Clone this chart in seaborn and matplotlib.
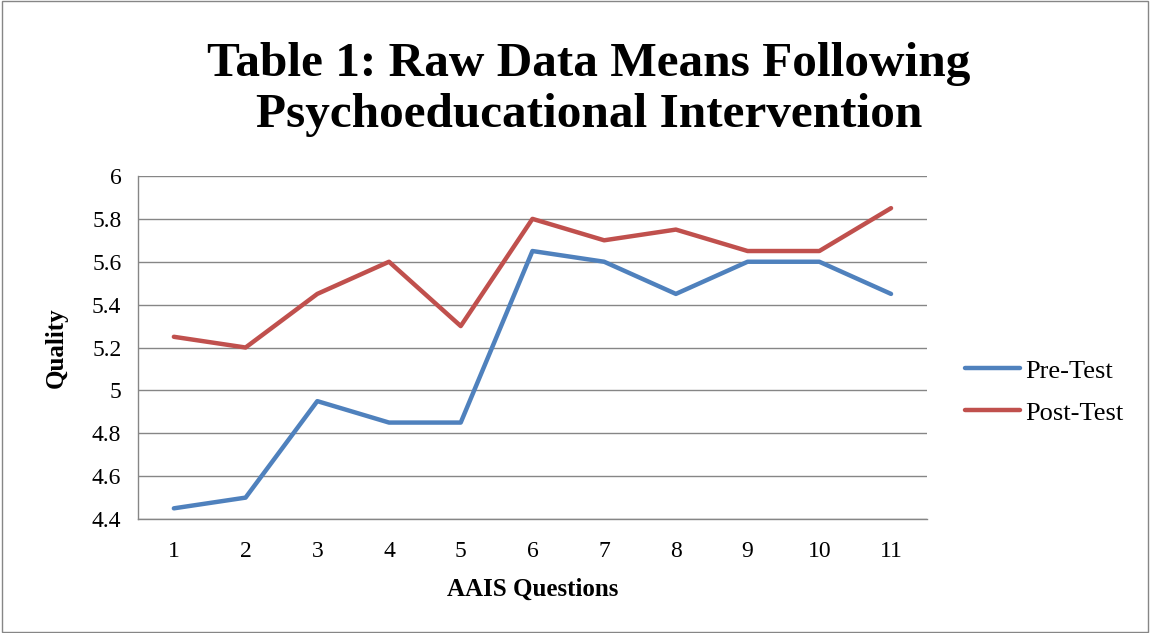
import numpy as np
import pandas as pd
import matplotlib.pyplot as plt
import seaborn as sns

questions = list(range(1, 12))
pre_test = [4.45, 4.5, 4.95, 4.85, 4.85, 5.65, 5.6, 5.45, 5.6, 5.6, 5.45]
post_test = [5.25, 5.2, 5.45, 5.6, 5.3, 5.8, 5.7, 5.75, 5.65, 5.65, 5.85]
series_names = ["Pre-Test", "Post-Test"]
y_ticks = [4.4, 4.6, 4.8, 5, 5.2, 5.4, 5.6, 5.8, 6]

df = pd.DataFrame({
    "q": questions * 2,
    "val": pre_test + post_test,
    "serie": [series_names[0]] * 11 + [series_names[1]] * 11,
})

sns.set_style("white")
plt.rcParams["font.family"] = ["Liberation Serif", "DejaVu Serif"]
plt.rcParams["text.color"] = "black"
plt.rcParams["axes.labelcolor"] = "black"
plt.rcParams["xtick.color"] = "black"
plt.rcParams["ytick.color"] = "black"

fig = plt.figure(figsize=(11.5, 6.33), dpi=100)
ax = fig.add_axes([0.12, 0.18, 0.686, 0.542])

sns.lineplot(data=df, x="q", y="val", hue="serie",
             palette=["#4F81BD", "#C0504D"], linewidth=3.2, ax=ax)

ax.set_xlim(0.5, 11.5)
ax.set_ylim(4.4, 6)
ax.set_yticks(y_ticks)
ax.set_yticklabels([f"{v:g}" for v in y_ticks], fontsize=17)
ax.set_xticks(questions)
ax.set_xticklabels([str(q) for q in questions], fontsize=17)
ax.set_xticks(np.arange(0.5, 12, 1), minor=True)
ax.tick_params(axis="x", which="major", length=0, pad=16)
ax.tick_params(axis="x", which="minor", length=6, color="#868686", direction="out")
ax.tick_params(axis="y", length=7, color="#868686", direction="out", pad=5)
ax.yaxis.grid(True, color="#868686", linewidth=1)
ax.set_axisbelow(True)
for s in ["top", "right"]:
    ax.spines[s].set_visible(False)
for s in ["left", "bottom"]:
    ax.spines[s].set_color("#868686")
    ax.spines[s].set_linewidth(1)

ax.set_xlabel("AAIS Questions", fontsize=18, fontweight="bold")
ax.set_ylabel("Quality", fontsize=18, fontweight="bold")
ax.xaxis.set_label_coords(0.5, -0.17)
ax.yaxis.set_label_coords(-0.089, 0.5)

fig.text(0.512, 0.858, "Table 1: Raw Data Means Following\nPsychoeducational Intervention",
         ha="center", va="center", fontsize=35.5, fontweight="bold", linespacing=1.2)

ax.get_legend().remove()
handles, labels = ax.get_legend_handles_labels()
fig.legend(handles, labels, loc="center left", bbox_to_anchor=(0.839, 0.381),
           frameon=False, fontsize=19, handlelength=2.1, handletextpad=0.2,
           labelspacing=0.7, borderpad=0, borderaxespad=0)

fig.patches.append(plt.Rectangle((0.002, 0.002), 0.996, 0.996, transform=fig.transFigure,
                                 fill=False, edgecolor="#868686", linewidth=1))

fig.savefig("out.png", dpi=100)
